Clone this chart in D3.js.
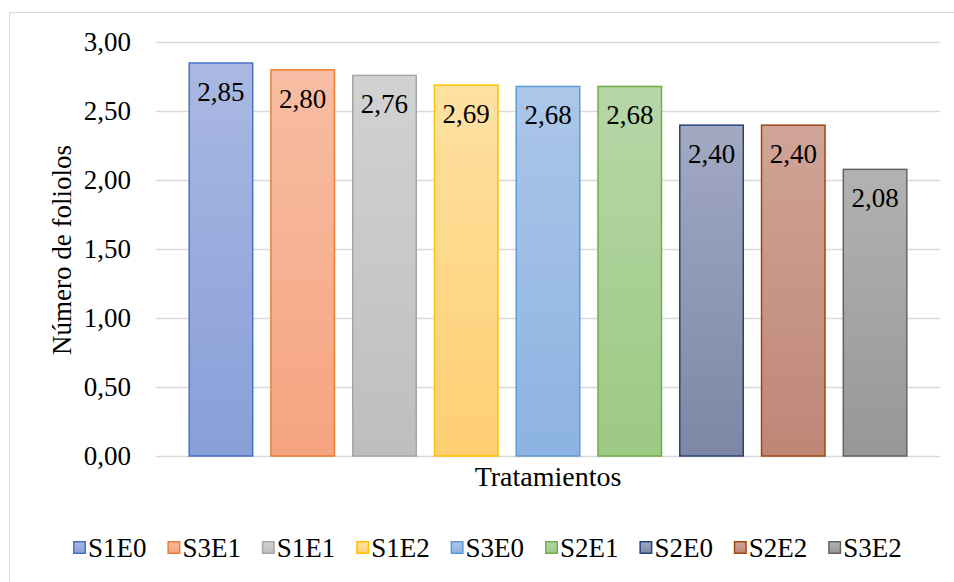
<!DOCTYPE html>
<html><head><meta charset="utf-8">
<script src="https://cdn.jsdelivr.net/npm/d3@7"></script>
<style>body{margin:0;background:#fff}svg{display:block}
svg text{font-family:"Liberation Serif","Times New Roman",serif}</style>
</head><body><svg id="c" width="954" height="582"></svg>
<script>
const categories = ["S1E0","S3E1","S1E1","S1E2","S3E0","S2E1","S2E0","S2E2","S3E2"];
const values = [2.85,2.80,2.76,2.69,2.68,2.68,2.40,2.40,2.08];
const labels = ["2,85","2,80","2,76","2,69","2,68","2,68","2,40","2,40","2,08"];
const yTicks = [0,0.5,1,1.5,2,2.5,3];
const yTickLabels = ["0,00","0,50","1,00","1,50","2,00","2,50","3,00"];
const strokeColors = ["#4472c4","#ed7d31","#a5a5a5","#ffc000","#5b9bd5","#70ad47","#264478","#9e480e","#636363"];
const topColors = ["#aab8e2","#f7bda4","#d2d2d2","#ffe1a2","#abc6e8","#b6d7a8","#a1a9c3","#d0a497","#b2b2b2"];
const bottomColors = ["#889fd8","#f6a47f","#bebebe","#ffcf72","#8db3e2","#9cc983","#7d87a5","#bf8676","#979797"];

const FF = "Liberation Serif";
const svg = d3.select("#c");
function tx(sel){ return sel.attr("font-family",FF).attr("font-size",27).attr("fill","#000"); }

svg.append("rect").attr("x",9.5).attr("y",12.5).attr("width",960).attr("height",600)
  .attr("fill","none").attr("stroke","#d9d9d9").attr("stroke-width",1);

const x = d3.scaleBand().domain(categories).range([156,940]).paddingInner(0.205).paddingOuter(0.397);
const y = d3.scaleLinear().domain([0,3]).range([456,41.5]);

const defs = svg.append("defs");
categories.forEach((c,i)=>{
  const g = defs.append("linearGradient").attr("id","g"+i).attr("x1",0).attr("y1",0).attr("x2",0).attr("y2",1);
  g.append("stop").attr("offset","0%").attr("stop-color",topColors[i]);
  g.append("stop").attr("offset","100%").attr("stop-color",bottomColors[i]);
});

svg.append("g").selectAll("line").data(yTicks).join("line")
  .attr("x1",156).attr("x2",940).attr("y1",d=>Math.round(y(d))+0.5).attr("y2",d=>Math.round(y(d))+0.5)
  .attr("stroke","#d9d9d9").attr("stroke-width",1.5);

const yAxis = d3.axisLeft(y).tickValues(yTicks).tickFormat((d,i)=>yTickLabels[i]).tickSize(0).tickPadding(0);
const ya = svg.append("g").attr("transform","translate(131,0)").call(yAxis);
ya.attr("font-family",FF).attr("font-size",27);
ya.select(".domain").remove();
tx(ya.selectAll("text")).attr("dy","0.33em");

svg.append("g").selectAll("rect").data(values).join("rect")
  .attr("x",(d,i)=>x(categories[i])+0.75).attr("width",x.bandwidth()-1.5)
  .attr("y",d=>y(d)+0.75).attr("height",d=>y(0)-y(d)-0.75)
  .attr("fill",(d,i)=>"url(#g"+i+")").attr("stroke",(d,i)=>strokeColors[i]).attr("stroke-width",1.5);

tx(svg.append("g").selectAll("text").data(values).join("text"))
  .attr("x",(d,i)=>x(categories[i])+x.bandwidth()/2).attr("y",d=>y(d)+38.5)
  .attr("text-anchor","middle")
  .text((d,i)=>labels[i]);

tx(svg.append("text")).attr("x",548).attr("y",486).attr("text-anchor","middle").attr("font-size",28).text("Tratamientos");
tx(svg.append("text")).attr("transform","translate(71,250) rotate(-90)").attr("text-anchor","middle").text("Número de foliolos");

const lg = svg.append("g");
const startX = 73, step = 94.4;
categories.forEach((c,i)=>{
  const gx = startX + i*step;
  lg.append("rect").attr("x",gx+0.75).attr("y",541.75).attr("width",11.5).attr("height",11.5)
    .attr("fill","url(#g"+i+")").attr("stroke",strokeColors[i]).attr("stroke-width",1.5);
  tx(lg.append("text")).attr("x",gx+15).attr("y",557).text(c);
});
</script></body></html>
